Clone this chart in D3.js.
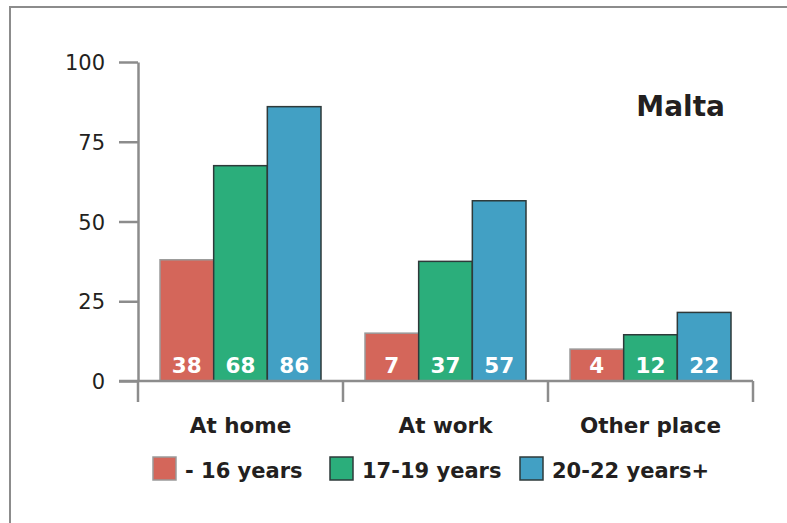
<!DOCTYPE html>
<html><head><meta charset="utf-8">
<script src="https://cdn.jsdelivr.net/npm/d3@7"></script>
<style>body{margin:0;background:#fff}svg{display:block}</style>
</head><body>
<svg id="c" width="787" height="523"></svg>
<script>
const categories = ["At home", "At work", "Other place"];
const seriesNames = ["- 16 years", "17-19 years", "20-22 years+"];
const under16 = [38, 15, 10];
const age17to19 = [67.5, 37.5, 14.5];
const age20to22 = [86, 56.5, 21.5];
const labelUnder16 = ["38", "7", "4"];
const label17to19 = ["68", "37", "12"];
const label20to22 = ["86", "57", "22"];
const yTicks = [0, 25, 50, 75, 100];
const title = "Malta";

const colors = ["#d4665a", "#2bae7b", "#42a0c4"];
const strokes = ["#9a9a9a", "#2e3a3a", "#2e3a3a"];
const values = [under16, age17to19, age20to22];
const labels = [labelUnder16, label17to19, label20to22];
const font = "'DejaVu Sans', sans-serif";
const axisColor = "#8c8c8c";

const svg = d3.select("#c");

// frame
svg.append("path").attr("d", "M10,523V7H787").attr("fill", "none")
  .attr("stroke", "#8c8c8c").attr("stroke-width", 2);

const x = d3.scaleBand().domain(categories).range([138, 753]).padding(0);
const xs = d3.scaleBand().domain(seriesNames).range([22, 183]).padding(0);
const y = d3.scaleLinear().domain([0, 100]).range([381, 62]);

// y axis
const ya = svg.append("g").attr("transform", "translate(138,0)")
  .call(d3.axisLeft(y).tickValues(yTicks).tickSize(19).tickSizeOuter(0).tickPadding(14));
ya.select(".domain").attr("stroke", axisColor).attr("stroke-width", 2.5);
ya.selectAll(".tick line").attr("stroke", axisColor).attr("stroke-width", 2.5);
ya.selectAll(".tick text").attr("font-family", font).attr("font-size", 21)
  .attr("font-weight", 400).attr("fill", "#231f20").attr("dy", "0.36em");

// bars
const g = svg.append("g");
categories.forEach((cat, ci) => {
  seriesNames.forEach((s, si) => {
    const v = values[si][ci];
    g.append("rect")
      .attr("x", x(cat) + xs(s)).attr("y", y(v))
      .attr("width", xs.bandwidth()).attr("height", y(0) - y(v))
      .attr("fill", colors[si]).attr("stroke", strokes[si]).attr("stroke-width", 1.5);
    g.append("text")
      .attr("x", x(cat) + xs(s) + xs.bandwidth() / 2).attr("y", 372.5)
      .attr("text-anchor", "middle").attr("font-family", font)
      .attr("font-weight", 700).attr("font-size", 21.5).attr("fill", "#fff")
      .text(labels[si][ci]);
  });
});

// x axis baseline and separators
svg.append("line").attr("x1", 119).attr("x2", 753).attr("y1", 381).attr("y2", 381)
  .attr("stroke", axisColor).attr("stroke-width", 2.5);
const seps = categories.map(c => x(c)).concat([x(categories[categories.length - 1]) + x.bandwidth()]);
svg.selectAll(".sep").data(seps).enter().append("line")
  .attr("x1", d => d).attr("x2", d => d).attr("y1", 381).attr("y2", 402)
  .attr("stroke", axisColor).attr("stroke-width", 2.5);

const xa = svg.append("g").attr("transform", "translate(0,381)")
  .call(d3.axisBottom(x).tickSize(0).tickPadding(37));
xa.select(".domain").remove();
xa.selectAll(".tick text").attr("font-family", font).attr("font-size", 21.5)
  .attr("font-weight", 700).attr("fill", "#231f20");

// title
svg.append("text").attr("x", 725).attr("y", 116).attr("text-anchor", "end")
  .attr("font-family", font).attr("font-weight", 700).attr("font-size", 28)
  .attr("fill", "#231f20").text(title);

// legend
const legendX = [153, 330, 520];
seriesNames.forEach((s, i) => {
  svg.append("rect").attr("x", legendX[i]).attr("y", 457).attr("width", 23).attr("height", 23)
    .attr("fill", colors[i]).attr("stroke", strokes[i]).attr("stroke-width", 1.5);
  svg.append("text").attr("x", legendX[i] + 32).attr("y", 478)
    .attr("font-family", font).attr("font-weight", 700).attr("font-size", 21)
    .attr("fill", "#231f20").text(s);
});
</script>
</body></html>
